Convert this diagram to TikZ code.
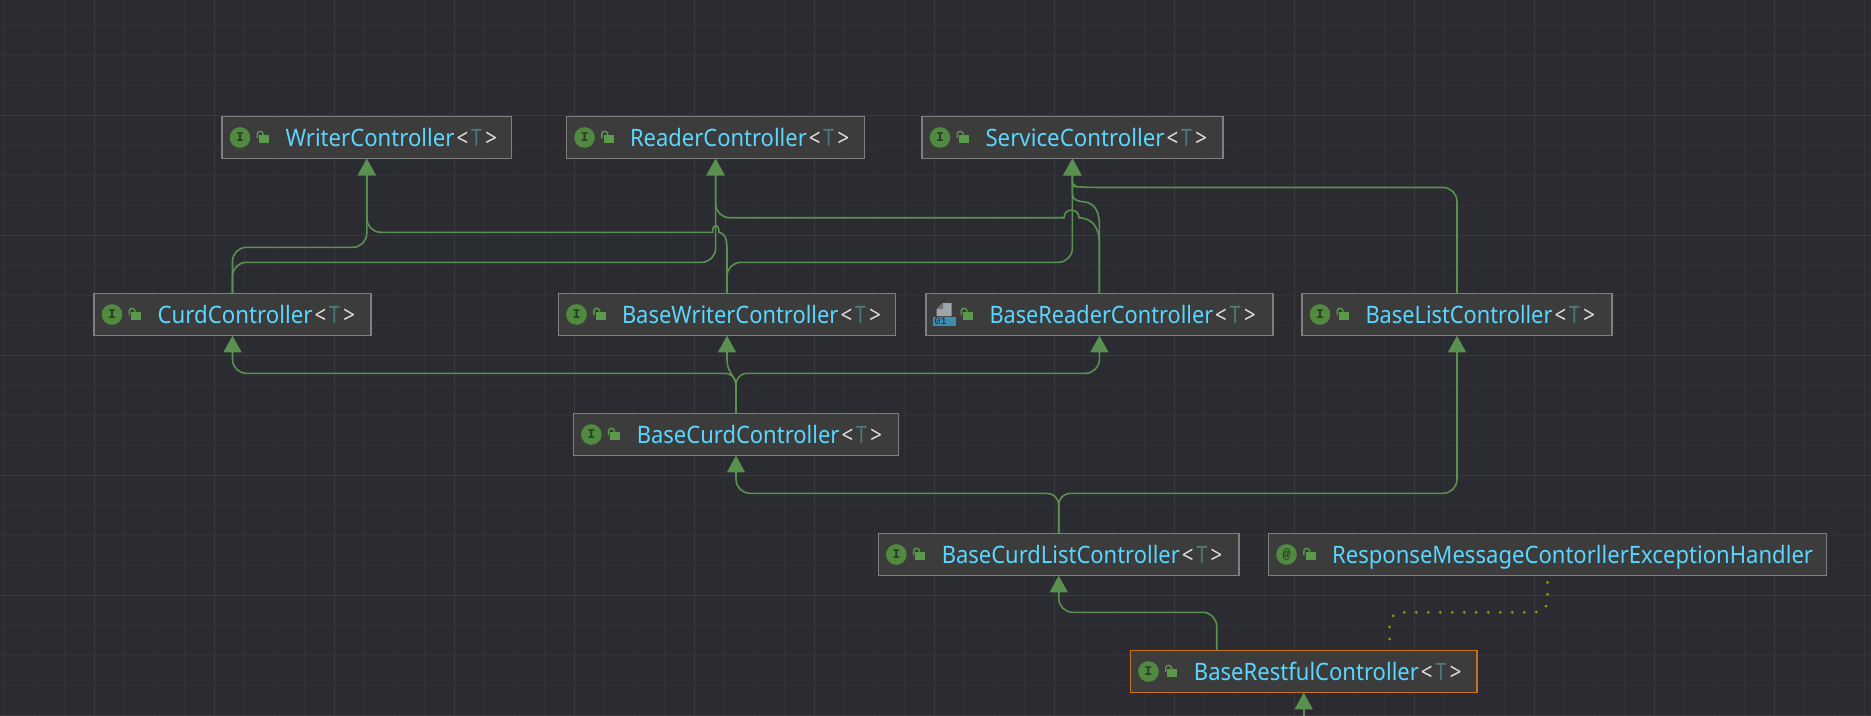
\documentclass[tikz,border=0pt]{standalone}
\usepackage{fontspec}
\usepackage{graphicx}
\usetikzlibrary{arrows.meta,calc}
\setmainfont{Noto Sans}
\newfontfamily\iconfont{Liberation Mono}
\newdimen\pxd \pxd=0.75pt
\newsavebox{\nmbox}
\definecolor{bgc}{HTML}{2A2C31}
\definecolor{gridminor}{HTML}{313338}
\definecolor{gridmajor}{HTML}{393B3F}
\definecolor{boxfill}{HTML}{3C3C3C}
\definecolor{boxline}{HTML}{7F7F7F}
\definecolor{focusline}{HTML}{C8701E}
\definecolor{namec}{HTML}{5AD6FF}
\definecolor{bracketc}{HTML}{E0E0E0}
\definecolor{typec}{HTML}{4C7A7C}
\definecolor{linkc}{HTML}{5B9150}
\definecolor{iconc}{HTML}{4F8A3E}
\definecolor{icontext}{HTML}{2A3A26}
\definecolor{lockc}{HTML}{5A9A4A}
\definecolor{dotc}{HTML}{9D9D00}
\definecolor{pagec}{HTML}{A0A5A9}
\definecolor{foldc}{HTML}{6E7276}
\definecolor{bluec}{HTML}{3D8DB0}
% scaled class name
\newcommand{\nm}[2]{\sbox{\nmbox}{\textcolor{namec}{#2}}\pgfmathsetmacro{\nmf}{#1*0.75/\wd\nmbox}\scalebox{\nmf}[1]{\usebox{\nmbox}}}
\newcommand{\gen}{\kern2\pxd\scalebox{0.85}[1]{\textcolor{bracketc}{<}}\kern3\pxd\scalebox{0.8}[1]{\textcolor{typec}{T}}\kern3.5\pxd\scalebox{0.85}[1]{\textcolor{bracketc}{>}}}
\newcommand{\lab}[3]{\makebox[#1\pxd][l]{\hspace*{63.5\pxd}\nm{#2}{#3}}}
\newcommand{\labg}[3]{\makebox[#1\pxd][l]{\hspace*{63.5\pxd}\nm{#2}{#3}\gen}}
\newcommand{\lockicon}[1]{%
  \fill[lockc] ($(#1.west)+(37,-2.2)$) rectangle ($(#1.west)+(47,5.5)$);
  \draw[lockc,line width=1.05pt] ($(#1.west)+(35.3,0.5)$) -- ($(#1.west)+(35.3,-3.5)$) .. controls ($(#1.west)+(35.3,-7.2)$) and ($(#1.west)+(41,-7.2)$) .. ($(#1.west)+(41.5,-2.8)$);}
\newcommand{\classicon}[3]{\node[iconbadge] (#2) at ($(#1.west)+(18,0)$) {#3};\lockicon{#1}}
\tikzset{
  cbox/.style={draw=boxline,fill=boxfill,line width=1.125pt,inner sep=0pt,outer sep=0pt,minimum height=31.8pt,
    text height=14pt,text depth=0pt,font=\fontsize{18pt}{20pt}\selectfont},
  focus/.style={cbox,draw=focusline},
  iconbadge/.style={circle,fill=iconc,inner sep=0pt,minimum size=15.5pt,text=icontext,
    font=\iconfont\bfseries\fontsize{10pt}{10pt}\selectfont},
  link/.style={draw=linkc,line width=1.2pt},
  inherit/.style={link,-{Triangle[width=13.5pt,length=12.5pt]}},
  dotlink/.style={draw=dotc,line width=2.25pt,line cap=round,dash pattern=on 0pt off 9pt,dash phase=4pt},
}
\begin{document}
\begin{tikzpicture}[x=0.75pt,y=-0.75pt]
\useasboundingbox (0,0) rectangle (1871,715);
\fill[bgc] (0,0) rectangle (1871,715);
\foreach \gx in {4,34,...,1864} \draw[gridminor,line width=0.75pt] (\gx,0) -- (\gx,715);
\foreach \gy in {25,55,...,715} \draw[gridminor,line width=0.75pt] (0,\gy) -- (1871,\gy);
\foreach \gx in {94,214,...,1864} \draw[gridmajor,line width=0.75pt] (\gx,0) -- (\gx,715);
\foreach \gy in {115,235,...,715} \draw[gridmajor,line width=0.75pt] (0,\gy) -- (1871,\gy);

% nodes
\node[cbox] (writer) at (366.8,137.5) {\labg{289.6}{169}{WriterController}};
\node[cbox] (reader) at (715.6,137.5) {\labg{298.2}{176.8}{ReaderController}};
\node[cbox] (service) at (1072.4,137.5) {\labg{300.8}{179}{ServiceController}};
\node[cbox] (curd) at (232.5,314.5) {\labg{277}{155}{CurdController}};
\node[cbox] (bwriter) at (727,314.5) {\labg{337}{216.5}{BaseWriterController}};
\node[cbox] (breader) at (1099.4,314.5) {\labg{346.8}{223.7}{BaseReaderController}};
\node[cbox] (blist) at (1457,314.5) {\labg{310}{187}{BaseListController}};
\node[cbox] (bcurd) at (736,434.5) {\labg{325.4}{202.7}{BaseCurdController}};
\node[cbox] (bcl) at (1058.7,554.5) {\labg{360.7}{238}{BaseCurdListController}};
\node[cbox] (resp) at (1547.6,554.5) {\lab{558.1}{481}{ResponseMessageContorllerExceptionHandler}};
\node[focus] (rest) at (1303.7,671.5) {\labg{346.5}{225}{BaseRestfulController}};

% icons
\classicon{writer}{iw}{I}
\classicon{reader}{ir}{I}
\classicon{service}{is}{I}
\classicon{curd}{ic}{I}
\classicon{bwriter}{ibw}{I}
\classicon{blist}{ibl}{I}
\classicon{bcurd}{ibc}{I}
\classicon{bcl}{ibcl}{I}
\classicon{resp}{iresp}{@}
\classicon{rest}{irest}{I}
\fill[pagec] ($(breader.west)+(10.7,1.5)$) -- ($(breader.west)+(25.7,1.5)$) -- ($(breader.west)+(25.7,-11.5)$) -- ($(breader.west)+(17,-11.5)$) -- ($(breader.west)+(10.7,-5.5)$) -- cycle;
\fill[foldc] ($(breader.west)+(17,-11.5)$) -- ($(breader.west)+(10.7,-5.5)$) -- ($(breader.west)+(17,-5.5)$) -- cycle;
\node[fill=bluec,inner sep=0pt,minimum width=17pt,minimum height=6.75pt,anchor=north west,text=bgc!80!black,font=\iconfont\fontsize{7.5pt}{7.5pt}\selectfont,align=left] (ibr) at ($(breader.west)+(7,2.2)$) {\raisebox{-0.5pt}{01}\kern6pt};
\lockicon{breader}

% connectors
\draw[inherit,rounded corners=10.5pt] (curd.north) -- (curd.north |- 0,247.3) -- (writer.south |- 0,247.3) -- (writer.south);
\draw[inherit,rounded corners=10.5pt] (curd.north) -- (curd.north |- 0,262.3) -- (reader.south |- 0,262.3) -- (reader.south);
\draw[inherit] (bwriter.north) -- (bwriter.north |- 0,248) .. controls (727,238) and (724,233) .. (719,232.3)
  .. controls (719,223) and (712.5,223) .. (712.5,232.3)
  [rounded corners=10.5pt] -- (writer.south |- 0,232.3) -- (writer.south);
\draw[inherit,rounded corners=10.5pt] (bwriter.north) -- (bwriter.north |- 0,262.3) -- (service.south |- 0,262.3) -- (service.south);
\draw[inherit] (breader.north) -- (breader.north |- 0,245) .. controls (1099.4,225) and (1091,218.5) .. (1079,217.7)
  .. controls (1079,207.5) and (1064,207.5) .. (1064,217.7)
  [rounded corners=10.5pt] -- (reader.south |- 0,217.7) -- (reader.south);
\draw[inherit] (breader.north) -- (breader.north |- 0,225) .. controls (1099.4,208) and (1092,203) .. (1085,202)
  .. controls (1077,201) and (1072.4,200) .. (service.south |- 0,194) -- (service.south);
\draw[inherit] (blist.north) [rounded corners=10.5pt] -- (blist.north |- 0,187.5) -- (1087,187.5)
  [sharp corners] .. controls (1080,187) and (1074,186) .. (service.south |- 0,183) -- (service.south);

\draw[inherit] (bcurd.north) -- (bcurd.north |- 0,386) .. controls (736,378) and (732,373.3) .. (724,373.3)
  [rounded corners=10.5pt] -- (curd.south |- 0,373.3) -- (curd.south);
\draw[inherit] (bcurd.north) -- (bcurd.north |- 0,386) .. controls (736,376) and (727.4,374) .. (bwriter.south |- 0,360) -- (bwriter.south);
\draw[inherit] (bcurd.north) -- (bcurd.north |- 0,386) .. controls (736,378) and (740,373.3) .. (748,373.3)
  [rounded corners=10.5pt] -- (breader.south |- 0,373.3) -- (breader.south);

\draw[inherit] (bcl.north) -- (bcl.north |- 0,506) .. controls (1058.7,498) and (1054,493.3) .. (1045,493.3)
  [rounded corners=10.5pt] -- (bcurd.south |- 0,493.3) -- (bcurd.south);
\draw[inherit] (bcl.north) -- (bcl.north |- 0,506) .. controls (1058.7,498) and (1063,493.3) .. (1072,493.3)
  [rounded corners=10.5pt] -- (blist.south |- 0,493.3) -- (blist.south);

\coordinate (restTop) at ($(rest.north)+(-87,0)$);
\draw[inherit,rounded corners=10.5pt] (restTop) -- (restTop |- 0,612.3) -- (bcl.south |- 0,612.3) -- (bcl.south);
\coordinate (restDot) at ($(rest.north)+(86,0)$);
\draw[dotlink,rounded corners=9pt] (resp.south) -- (resp.south |- 0,612.3) -- (restDot |- 0,612.3) -- (restDot);
\coordinate (restBottom) at (rest.south |- 0,716);
\draw[inherit] (restBottom) -- (rest.south);
\end{tikzpicture}
\end{document}
